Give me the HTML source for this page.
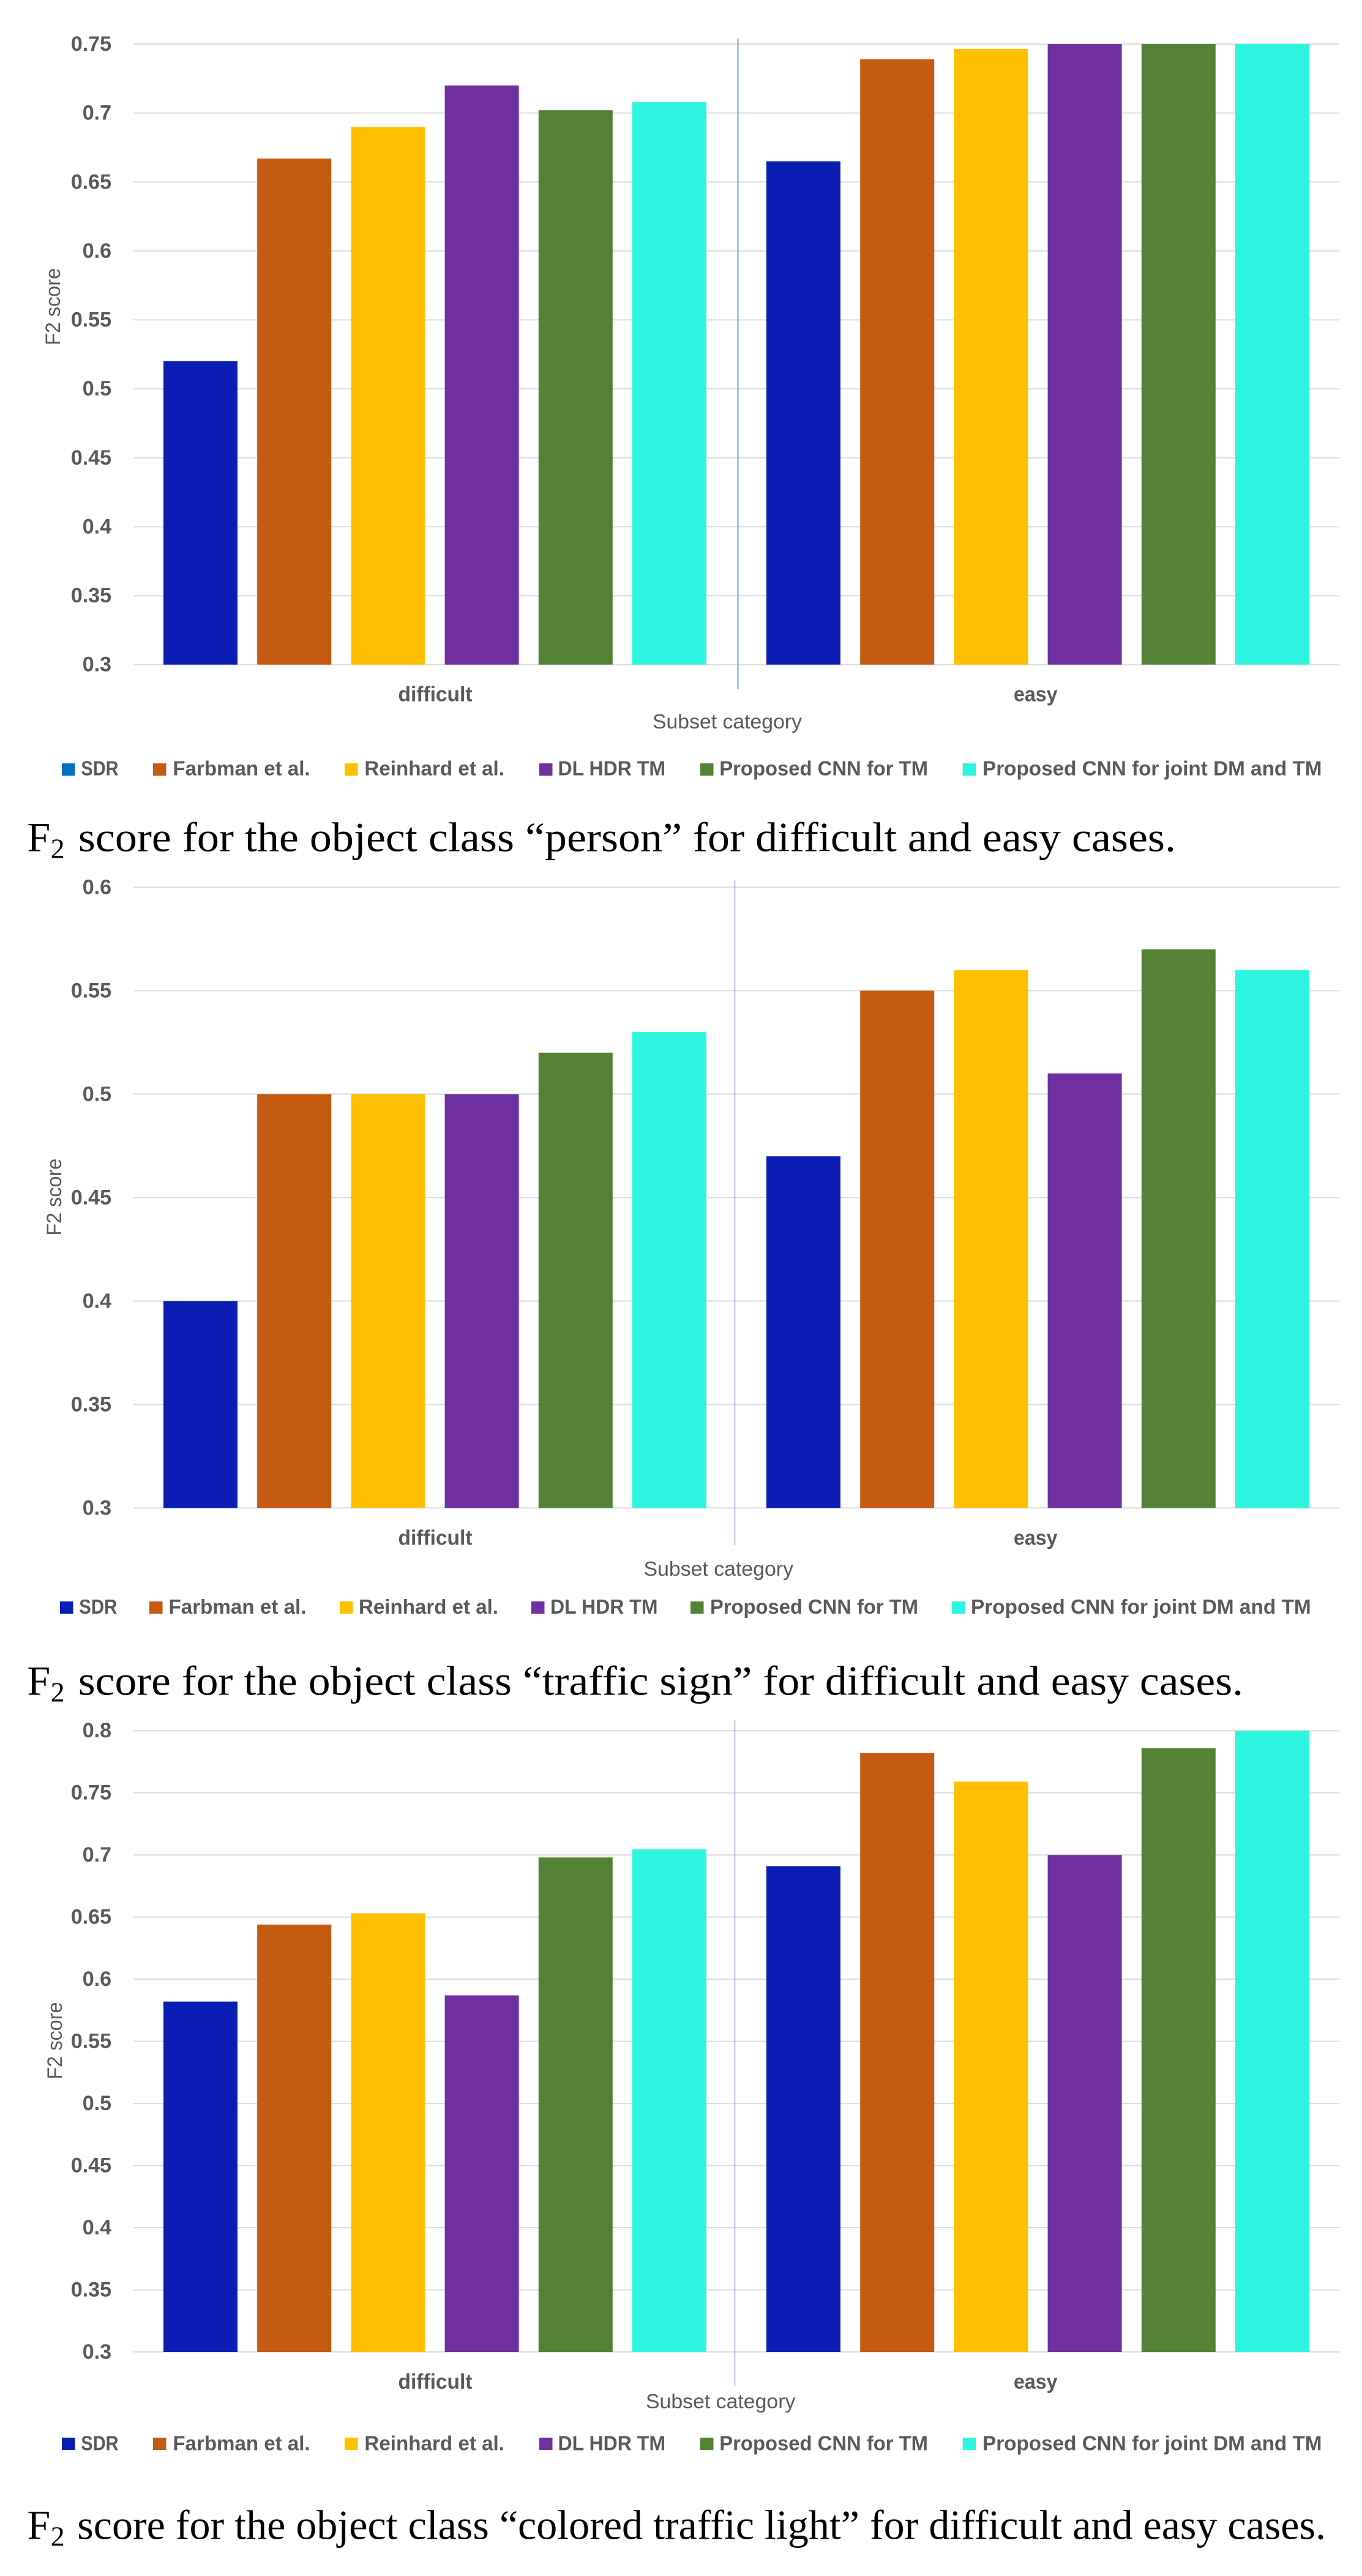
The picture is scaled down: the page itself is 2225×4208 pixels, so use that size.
<!DOCTYPE html>
<html lang="en">
<head>
<meta charset="utf-8">
<title>F2 score charts</title>
<style>
  html, body { margin: 0; padding: 0; background: #ffffff; }
  svg { display: block; }
  .sans { font-family: "Liberation Sans", sans-serif; fill: #595959; }
  .serif { font-family: "Liberation Serif", serif; fill: #000000; }
</style>
</head>
<body>
<svg id="figure" xmlns="http://www.w3.org/2000/svg" width="2225" height="4208" viewBox="0 0 2225 4208"></svg>
<script>
// ---- data ----
const categories = ['difficult', 'easy'];
const seriesNames = ['SDR', 'Farbman et al.', 'Reinhard et al.', 'DL HDR TM', 'Proposed CNN for TM', 'Proposed CNN for joint DM and TM'];

const personDifficult = [0.52, 0.667, 0.69, 0.72, 0.702, 0.708];
const personEasy = [0.665, 0.739, 0.7465, 0.75, 0.75, 0.75];
const personTicks = ['0.3', '0.35', '0.4', '0.45', '0.5', '0.55', '0.6', '0.65', '0.7', '0.75'];

const signDifficult = [0.40, 0.50, 0.50, 0.50, 0.52, 0.53];
const signEasy = [0.47, 0.55, 0.56, 0.51, 0.57, 0.56];
const signTicks = ['0.3', '0.35', '0.4', '0.45', '0.5', '0.55', '0.6'];

const lightDifficult = [0.582, 0.644, 0.653, 0.587, 0.698, 0.7045];
const lightEasy = [0.691, 0.782, 0.759, 0.70, 0.786, 0.80];
const lightTicks = ['0.3', '0.35', '0.4', '0.45', '0.5', '0.55', '0.6', '0.65', '0.7', '0.75', '0.8'];

// ---- style and layout ----
const barColors = ['#0A1EB4', '#C55A11', '#FFC000', '#7030A0', '#548235', '#2DF5DF'];
const plotLeft = 218, plotRight = 2188, barWidth = 121, barPitch = 153.2, bandMargin = 49;

const legendLayoutA = [[101, 132.4, 193.6], [250, 282.4, 506.6], [563, 595.4, 824], [881, 911.5, 1087], [1144, 1175.3, 1516], [1572.7, 1605, 2159.5]];
const legendLayoutB = [[98, 129.3, 191.3], [244, 275.5, 500.5], [555, 586, 814], [868, 899, 1074.5], [1128, 1160, 1500], [1555, 1586, 2141.6]];

const charts = [
  { key: 'person', difficult: personDifficult, easy: personEasy, ticks: personTicks,
    yMin: 0.3, yMax: 0.75, yTop: 72, yBottom: 1085.7,
    sepX: 1205.5, sepTop: 63, sepBottom: 1125.7, sepColor: '#6F96DA', sepWidth: 2,
    catBaseline: 1145.5, titleX: 1066, titleEnd: 1310, titleBaseline: 1190,
    yTitleX: 98, yTitleC: 501, legendBaseline: 1266.7, legendTop: 1247, legendLayout: legendLayoutA, sdrSwatch: '#0070C0',
    captionPre: 'score for the object class \u201Cperson\u201D for difficult and easy cases.',
    captionBaseline: 1390.7, captionX: 127.8, captionEnd: 1921 },
  { key: 'sign', difficult: signDifficult, easy: signEasy, ticks: signTicks,
    yMin: 0.3, yMax: 0.6, yTop: 1449.3, yBottom: 2463.3,
    sepX: 1200.5, sepTop: 1437.7, sepBottom: 2523.7, sepColor: '#8FAADC', sepWidth: 1.5,
    catBaseline: 2523.5, titleX: 1051.5, titleEnd: 1296, titleBaseline: 2574,
    yTitleX: 100, yTitleC: 1955.5, legendBaseline: 2636, legendTop: 2616, legendLayout: legendLayoutB, sdrSwatch: '#0A1EB4',
    captionPre: 'score for the object class \u201Ctraffic sign\u201D for difficult and easy cases.',
    captionBaseline: 2768.7, captionX: 127.8, captionEnd: 2031 },
  { key: 'light', difficult: lightDifficult, easy: lightEasy, ticks: lightTicks,
    yMin: 0.3, yMax: 0.8, yTop: 2827.2, yBottom: 3842,
    sepX: 1200.5, sepTop: 2810, sepBottom: 3897, sepColor: '#8FAADC', sepWidth: 1.5,
    catBaseline: 3902, titleX: 1055, titleEnd: 1299.4, titleBaseline: 3934,
    yTitleX: 101, yTitleC: 3333.5, legendBaseline: 4002.3, legendTop: 3982, legendLayout: legendLayoutA, sdrSwatch: '#0A1EB4',
    captionPre: 'score for the object class \u201Ccolored traffic light\u201D for difficult and easy cases.',
    captionBaseline: 4147.3, captionX: 126.3, captionEnd: 2166 }
];

const NS = 'http://www.w3.org/2000/svg';
const fig = document.getElementById('figure');

function make(tag, parent, attrs, text) {
  const node = document.createElementNS(NS, tag);
  for (const k in attrs) node.setAttribute(k, attrs[k]);
  if (text !== undefined) node.textContent = text;
  parent.appendChild(node);
  return node;
}

function yScale(c, v) {
  return c.yBottom - (v - c.yMin) / (c.yMax - c.yMin) * (c.yBottom - c.yTop);
}

function xScale(catIndex, seriesIndex) {
  const band = (plotRight - plotLeft) / categories.length;
  return plotLeft + catIndex * band + bandMargin + seriesIndex * barPitch;
}

charts.forEach(function (c) {
  const g = make('g', fig, {});
  
  

  // gridlines and y tick labels
  c.ticks.forEach(function (t) {
    const y = yScale(c, parseFloat(t));
    const line = make('line', g, { x1: plotLeft, x2: plotRight, y1: y, y2: y, stroke: '#DCDCDC', 'stroke-width': 2 });
    
    
    const label = make('text', g, { x: 182, y: y + 11, 'text-anchor': 'end', 'font-size': 34, 'font-weight': 'bold', class: 'sans' }, t);
    
    
  });

  // bars
  [c.difficult, c.easy].forEach(function (values, catIndex) {
    values.forEach(function (v, s) {
      const top = yScale(c, v);
      const bar = make('rect', g, { x: xScale(catIndex, s), y: top, width: barWidth, height: yScale(c, c.yMin) - top, fill: barColors[s] });
      
      
    });
  });

  // category separator
  const sep = make('line', g, { x1: c.sepX, x2: c.sepX, y1: c.sepTop, y2: c.sepBottom, stroke: c.sepColor, 'stroke-width': c.sepWidth });
  
  

  // category labels
  const difficultLabel = make('text', g, { x: 650.5, y: c.catBaseline, 'font-size': 34, 'font-weight': 'bold', class: 'sans', textLength: 121, lengthAdjust: 'spacingAndGlyphs' }, categories[0]);
  
  
  const easyLabel = make('text', g, { x: 1656, y: c.catBaseline, 'font-size': 34, 'font-weight': 'bold', class: 'sans', textLength: 71.5, lengthAdjust: 'spacingAndGlyphs' }, categories[1]);
  
  

  // axis titles
  const xTitle = make('text', g, { x: c.titleX, y: c.titleBaseline, 'font-size': 33, class: 'sans', textLength: c.titleEnd - c.titleX, lengthAdjust: 'spacingAndGlyphs' }, 'Subset category');
  
  
  const yTitle = make('text', g, { transform: 'translate(' + c.yTitleX + ' ' + (c.yTitleC + 63) + ') rotate(-90)', x: 0, y: 0, 'font-size': 34, class: 'sans', textLength: 126, lengthAdjust: 'spacingAndGlyphs' }, 'F2 score');
  
  

  // legend
  seriesNames.forEach(function (name, s) {
    const pos = c.legendLayout[s];
    const entry = make('g', g, {});
    
    
    const swatch = make('rect', entry, { x: pos[0], y: c.legendTop, width: 21.5, height: 20, fill: s === 0 ? c.sdrSwatch : barColors[s] });
    
    
    const label = make('text', entry, { x: pos[1], y: c.legendBaseline, 'font-size': 33, 'font-weight': 'bold', class: 'sans', textLength: pos[2] - pos[1], lengthAdjust: 'spacingAndGlyphs' }, name);
    
    
  });

  // caption
  const cap = make('g', fig, {});
  
  
  const capF = make('text', cap, { x: 44.4, y: c.captionBaseline, 'font-size': 68, class: 'serif' }, 'F');
  
  
  const capSub = make('text', cap, { x: 82.6, y: c.captionBaseline + 11, 'font-size': 46, class: 'serif' }, '2');
  
  
  const capText = make('text', cap, { x: c.captionX, y: c.captionBaseline, 'font-size': 68, class: 'serif', textLength: c.captionEnd - c.captionX, lengthAdjust: 'spacingAndGlyphs' }, c.captionPre);
  
  
});
</script>
</body>
</html>
